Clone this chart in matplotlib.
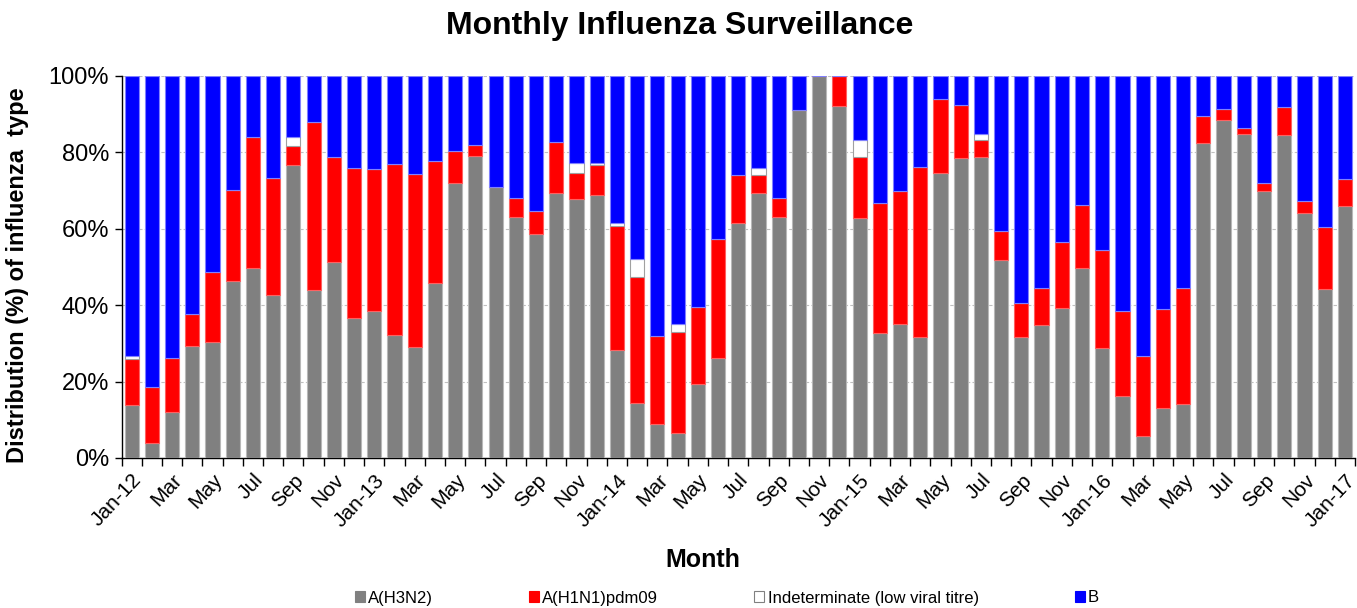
import matplotlib
matplotlib.use("Agg")
import matplotlib.pyplot as plt
import matplotlib.transforms as mtransforms
from matplotlib.patches import Patch
import numpy as np

plt.rcParams['font.family'] = ['Liberation Sans', 'DejaVu Sans']

months = ["Jan-12", "Feb", "Mar", "Apr", "May", "Jun", "Jul", "Aug", "Sep", "Oct", "Nov", "Dec",
          "Jan-13", "Feb", "Mar", "Apr", "May", "Jun", "Jul", "Aug", "Sep", "Oct", "Nov", "Dec",
          "Jan-14", "Feb", "Mar", "Apr", "May", "Jun", "Jul", "Aug", "Sep", "Oct", "Nov", "Dec",
          "Jan-15", "Feb", "Mar", "Apr", "May", "Jun", "Jul", "Aug", "Sep", "Oct", "Nov", "Dec",
          "Jan-16", "Feb", "Mar", "Apr", "May", "Jun", "Jul", "Aug", "Sep", "Oct", "Nov", "Dec",
          "Jan-17"]

h3n2 = [13.9, 3.8, 12.1, 29.3, 30.3, 46.3, 49.8, 42.7, 76.7, 44.1, 51.3, 36.7,
        38.5, 32.1, 29.1, 45.8, 71.9, 79.1, 70.9, 63.1, 58.6, 69.4, 67.7, 68.8,
        28.3, 14.3, 8.8, 6.6, 19.4, 26.1, 61.5, 69.4, 63.1, 91.1, 100.0, 92.1,
        62.7, 32.6, 35.0, 31.7, 74.6, 78.5, 78.8, 51.8, 31.7, 34.9, 39.2, 49.8,
        28.9, 16.1, 5.7, 13.0, 14.2, 82.5, 88.5, 84.8, 69.9, 84.5, 64.1, 44.3,
        66.0]

h1n1 = [12.0, 14.8, 14.2, 8.4, 18.3, 23.9, 34.2, 30.6, 5.0, 43.8, 27.5, 39.2,
        37.2, 44.8, 45.3, 32.0, 8.5, 2.8, 0.0, 4.9, 6.1, 13.3, 7.0, 7.9,
        32.5, 33.1, 23.1, 26.5, 20.0, 31.1, 12.5, 4.7, 4.9, 0.0, 0.0, 7.9,
        16.2, 34.2, 34.8, 44.5, 19.4, 13.9, 4.4, 7.7, 8.8, 9.7, 17.4, 16.4,
        25.6, 22.4, 21.1, 26.0, 30.2, 7.0, 2.9, 1.6, 2.2, 7.3, 3.2, 16.3,
        7.0]

indet = [0.7, 0.0, 0.0, 0.0, 0.0, 0.0, 0.0, 0.0, 2.3, 0.0, 0.0, 0.0,
         0.0, 0.0, 0.0, 0.0, 0.0, 0.0, 0.0, 0.0, 0.0, 0.0, 2.4, 0.4,
         0.6, 4.6, 0.0, 2.0, 0.0, 0.0, 0.0, 1.7, 0.0, 0.0, 0.0, 0.0,
         4.3, 0.0, 0.0, 0.0, 0.0, 0.0, 1.6, 0.0, 0.0, 0.0, 0.0, 0.0,
         0.0, 0.0, 0.0, 0.0, 0.0, 0.0, 0.0, 0.0, 0.0, 0.0, 0.0, 0.0,
         0.0]

b_type = [round(100 - a - b - c, 1) for a, b, c in zip(h3n2, h1n1, indet)]

series = [("A(H3N2)", h3n2, "#808080", "#b8b8b8"),
          ("A(H1N1)pdm09", h1n1, "#ff0000", "#ff6060"),
          ("Indeterminate (low viral titre)", indet, "#ffffff", "#a0a0a0"),
          ("B", b_type, "#0000ff", "#8080ff")]

fig = plt.figure(figsize=(13.57, 6.08), dpi=100)
ax = fig.add_axes([121.5 / 1357, 1 - 458 / 608, (1355 - 121.5) / 1357, (458 - 76) / 608])

x = np.arange(len(months))
bottom = np.zeros(len(months))
for name, vals, fc, ec in series:
    v = np.array(vals)
    ax.bar(x, v, width=0.7, bottom=bottom, color=fc, edgecolor=ec, linewidth=0.8, zorder=3)
    bottom += v

ax.set_xlim(-0.5, len(months) - 0.5)
ax.set_ylim(0, 100)
ax.set_yticks([0, 20, 40, 60, 80, 100])
ax.set_yticklabels([f"{t}%" for t in [0, 20, 40, 60, 80, 100]], fontsize=17)
ax.yaxis.grid(True, linestyle=(0, (3, 2)), color="#c0c0c0", linewidth=0.8, zorder=0)

ax.set_xticks(x[::2])
ax.set_xticklabels(months[::2], rotation=47, ha="right", rotation_mode="anchor", fontsize=15)
shift = mtransforms.ScaledTranslation(-7 / 100, 0, fig.dpi_scale_trans)
for lbl in ax.get_xticklabels():
    lbl.set_transform(lbl.get_transform() + shift)
ax.set_xticks(np.arange(-0.5, len(months), 1), minor=True)
ax.tick_params(axis="x", which="major", length=0, pad=9)
ax.tick_params(axis="x", which="minor", length=6, width=1, direction="out")
ax.tick_params(axis="y", length=5, width=1, direction="out", pad=4)

for s in ["top", "right"]:
    ax.spines[s].set_visible(False)
ax.spines["left"].set_linewidth(1)
ax.spines["bottom"].set_linewidth(1)

fig.text(18 / 1357, 1 - 275 / 608, "Distribution (%) of influenza  type", rotation=90,
         ha="center", va="center", fontsize=17, fontweight="bold")
fig.text(703 / 1357, 1 - 560 / 608, "Month", ha="center", va="center", fontsize=18, fontweight="bold")
fig.text(680 / 1357, 1 - 26 / 608, "Monthly Influenza Surveillance", ha="center", va="center",
         fontsize=23, fontweight="bold")

handles = [Patch(facecolor=fc, edgecolor=("#808080" if fc == "#ffffff" else fc), linewidth=0.8, label=name)
           for name, vals, fc, ec in series]
fig.legend(handles=handles, loc="center", bbox_to_anchor=(727 / 1357, 1 - 598 / 608), ncol=4,
           frameon=False, fontsize=12, handlelength=0.6, handleheight=0.6,
           handletextpad=0.2, columnspacing=5.75)

fig.savefig("out.png", dpi=100)
